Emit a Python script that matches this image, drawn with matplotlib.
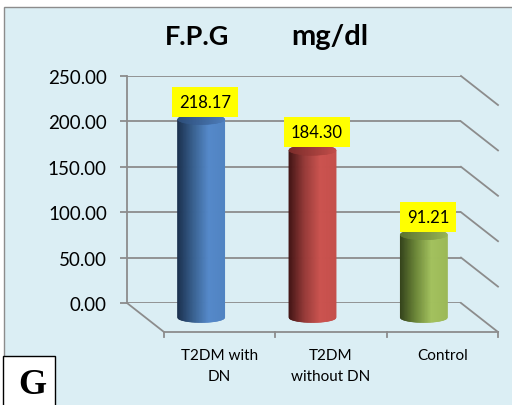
import numpy as np
import matplotlib
matplotlib.use("Agg")
import matplotlib.pyplot as plt
import matplotlib.transforms as mtransforms
from matplotlib.collections import PolyCollection
from matplotlib.colors import LinearSegmentedColormap
from matplotlib.lines import Line2D
from matplotlib.patches import Rectangle

# data
groups = ["T2DM with\nDN", "T2DM\nwithout DN", "Control"]
fpg = [218.17, 184.30, 91.21]
yticks = [0, 50, 100, 150, 200, 250]

body_cols = [["#1a2f4d", "#38608f", "#5589ca", "#5083c2"],
             ["#401313", "#963a38", "#cb534f", "#c54f4b"],
             ["#33421a", "#6c8738", "#a3c15e", "#9cb957"]]
top_cols = [["#2b4c78", "#4d7cba"],
            ["#7a2b29", "#c24d49"],
            ["#5b722f", "#97b454"]]

grid_col = "#8c8c8c"
bg_col = "#dbeef4"
depth = np.array([37.0, -29.0])   # back wall -> front edge, in pixels

plt.rcParams['font.family'] = ['Lato', 'DejaVu Sans']

fig = plt.figure(figsize=(5.12, 4.06), dpi=100)
fig.patch.set_facecolor("white")

# chart area
fig.patches.append(Rectangle((4 / 512, -0.05), 1.1, 1 - 8 / 406 + 0.05,
                             transform=fig.transFigure, facecolor=bg_col,
                             edgecolor=grid_col, lw=1.0, zorder=-5))

ax = fig.add_axes([127 / 512, 102 / 406, 334 / 512, 227 / 406])
ax.set_facecolor("none")
ax.set_xlim(0, 3)
ax.set_ylim(0, 250)
for s in ["top", "right", "bottom"]:
    ax.spines[s].set_visible(False)
ax.spines["left"].set_color(grid_col)
ax.spines["left"].set_linewidth(1.3)
ax.set_xticks([])
ax.set_yticks(yticks)
ax.set_yticklabels(["%.2f" % t for t in yticks])
ax.tick_params(axis="y", length=5, width=1.3, color=grid_col, pad=9.5,
               labelsize=13.5, labelcolor="black")

fig.canvas.draw()
ident = mtransforms.IdentityTransform()


def to_px(x, y, d=0.0):
    p = ax.transData.transform((x, y))
    return p + d * depth


def seg(p0, p1):
    fig.lines.append(Line2D([p0[0], p1[0]], [p0[1], p1[1]], transform=ident,
                            color=grid_col, lw=1.3, zorder=1))


# back wall gridlines and right side wall
for t in yticks:
    ax.plot([0, 3], [t, t], color=grid_col, lw=1.3, zorder=1)
    seg(to_px(3, t), to_px(3, t, 1))

# floor
seg(to_px(0, 0), to_px(0, 0, 1))
seg(to_px(0, 0, 1), to_px(3, 0, 1))
for i in range(4):
    p = to_px(i, 0, 1)
    seg(p, p + np.array([0, -5]))

# category labels on the front edge
front_tr = mtransforms.offset_copy(ax.transData, fig, x=depth[0], y=depth[1] - 16,
                                   units="dots")
for i, g in enumerate(groups):
    ax.text(i + 0.5, 0, g, transform=front_tr, ha="center", va="top",
            fontsize=11, linespacing=1.6, clip_on=False)

# cylinders sit halfway between back wall and front edge
bar_tr = mtransforms.offset_copy(ax.transData, fig, x=depth[0] / 2,
                                 y=depth[1] / 2, units="dots")
px_per_unit = (to_px(0, 250)[1] - to_px(0, 0)[1]) / 250
e = 5.0 / px_per_unit          # ellipse half height in data units
hw = 0.212                      # half bar width in category units
n = 80
u = np.linspace(-1, 1, n + 1)
s = np.sqrt(np.clip(1 - u ** 2, 0, 1))

for i, v in enumerate(fpg):
    c = i + 0.5
    cm_body = LinearSegmentedColormap.from_list("b%d" % i, body_cols[i])
    cm_top = LinearSegmentedColormap.from_list("t%d" % i, top_cols[i])
    xs = c + hw * u
    body, top, bc, tc = [], [], [], []
    for k in range(n):
        f = (u[k] + u[k + 1] + 2) / 4
        body.append([(xs[k], -e * s[k]), (xs[k + 1], -e * s[k + 1]),
                     (xs[k + 1], v - e * s[k + 1]), (xs[k], v - e * s[k])])
        top.append([(xs[k], v - e * s[k]), (xs[k + 1], v - e * s[k + 1]),
                    (xs[k + 1], v + e * s[k + 1]), (xs[k], v + e * s[k])])
        bc.append(cm_body(f))
        tc.append(cm_top(f))
    pc = PolyCollection(body, facecolors=bc, edgecolors=bc, linewidths=0.4,
                        transform=bar_tr, zorder=3, clip_on=False)
    ax.add_collection(pc)
    pt = PolyCollection(top, facecolors=tc, edgecolors=tc, linewidths=0.4,
                        transform=bar_tr, zorder=4, clip_on=False)
    ax.add_collection(pt)

    # value label
    ax.annotate("%.2f" % v, xy=(c, v), xycoords=bar_tr, xytext=(3, 7),
                textcoords="offset points", ha="center", va="bottom",
                fontsize=12, zorder=5,
                bbox=dict(boxstyle="square,pad=0.42", facecolor="#ffff00",
                          edgecolor="none"))

# title, two parts with a wide gap
fig.text(197 / 512, 1 - 37 / 406, "F.P.G", ha="center", va="center",
         fontsize=19.5, fontweight="bold")
fig.text(330 / 512, 1 - 37 / 406, "mg/dl", ha="center", va="center",
         fontsize=21, fontweight="bold")

# panel letter
fig.patches.append(Rectangle((3 / 512, -0.01), 52 / 512, 49 / 406 + 0.01,
                             transform=fig.transFigure, facecolor="white",
                             edgecolor="black", lw=1.0, zorder=5))
fig.text(32 / 512, 1 - 386 / 406, "G", ha="center", va="center", fontsize=26,
         fontweight="bold", family="Liberation Serif", zorder=6)

fig.savefig("out.png", dpi=100)
